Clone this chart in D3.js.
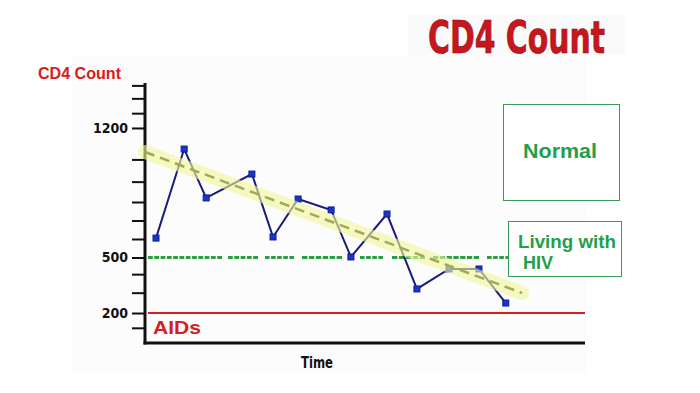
<!DOCTYPE html>
<html>
  <head>
    <meta charset="utf-8" />
    <title>CD4 Count</title>
    <style>
      body { margin: 0; background: #fff; }
      svg { display: block; }
    </style>
    <script src="https://d3js.org/d3.v7.min.js"></script>
  </head>
  <body>
    <div id="chart"></div>
    <script>
      // values (time in arbitrary units)
      const times = [2.5, 8.9, 13.9, 24.3, 29.1, 34.8, 42.3, 46.8, 55.0, 61.8, 69.1, 75.9, 82.0];
      const cd4 = [605, 1086, 822, 951, 611, 816, 757, 503, 735, 330, 438, 438, 254];
      const trendTimes = [0, 85.7];
      const trendValues = [1070, 308];
      const labelTicks = [1200, 500, 200];
      const minorTicks = [1430, 1360, 1280, 1030, 910, 800, 700, 600, 410, 310, 120];
      const hivLevel = 500;
      const aidsLevel = 200;

      const width = 700, height = 393;
      const condensed = "'Liberation Sans Narrow', 'DejaVu Sans Condensed', Arial, sans-serif";
      const bold = "'Liberation Sans', Arial, sans-serif";

      const svg = d3.select("#chart").append("svg")
        .attr("width", width).attr("height", height);

      const x = d3.scaleLinear().domain([0, 100]).range([145, 585]);
      const y = d3.scaleLinear().domain([38, 1443]).range([343, 83]);

      // faint paper patches
      svg.append("rect").attr("x", 72).attr("y", 55).attr("width", 515).attr("height", 317).attr("fill", "#fcfcfc");
      svg.append("rect").attr("x", 408).attr("y", 15).attr("width", 217).attr("height", 40).attr("fill", "#fafafa");

      // title
      svg.append("text")
        .attr("x", 428).attr("y", 53)
        .attr("textLength", 177).attr("lengthAdjust", "spacingAndGlyphs")
        .style("font-family", condensed).style("font-weight", "bold").style("font-size", "45px")
        .attr("fill", "#c8161d").attr("stroke", "#8a0d10").attr("stroke-width", 0.6)
        .text("CD4 Count");

      svg.append("text")
        .attr("x", 38).attr("y", 79)
        .attr("textLength", 83).attr("lengthAdjust", "spacingAndGlyphs")
        .style("font-family", bold).style("font-weight", "bold").style("font-size", "17px")
        .attr("fill", "#d42020").text("CD4 Count");

      // axes
      const gMinor = svg.append("g").attr("transform", "translate(145,0)")
        .call(d3.axisLeft(y).tickValues(minorTicks).tickSize(13).tickFormat(""));
      const gLab = svg.append("g").attr("transform", "translate(145,0)")
        .call(d3.axisLeft(y).tickValues(labelTicks).tickSize(13).tickPadding(4).tickFormat(d3.format("d")));
      [gMinor, gLab].forEach(g => {
        g.select(".domain").remove();
        g.selectAll(".tick line").attr("stroke", "#111").attr("stroke-width", 2);
      });
      gLab.selectAll(".tick text")
        .attr("fill", "#111")
        .style("font-family", condensed).style("font-weight", "bold").style("font-size", "14px");

      svg.append("line")
        .attr("x1", x(0)).attr("x2", x(0)).attr("y1", y(1443)).attr("y2", y(38) + 1.5)
        .attr("stroke", "#111").attr("stroke-width", 3);
      svg.append("line")
        .attr("x1", x(0) - 1.5).attr("x2", x(100)).attr("y1", y(38)).attr("y2", y(38))
        .attr("stroke", "#111").attr("stroke-width", 3);

      svg.append("text")
        .attr("x", 317).attr("y", 368).attr("text-anchor", "middle")
        .attr("textLength", 32).attr("lengthAdjust", "spacingAndGlyphs")
        .style("font-family", condensed).style("font-weight", "bold").style("font-size", "15px")
        .attr("fill", "#111").text("Time");

      // reference levels: green line is drawn as groups of short dashes
      const groups = [[148, 222], [228, 258], [265, 294], [302, 342], [360, 383], [392, 425], [433, 479], [487, 510]];
      const dash = [];
      groups.forEach((g, i) => {
        const n = Math.max(1, Math.round((g[1] - g[0] + 1.5) / 6.5));
        const d = (g[1] - g[0] - (n - 1) * 1.5) / n;
        for (let k = 0; k < n; k++) {
          dash.push(d);
          if (k < n - 1) dash.push(1.5);
        }
        dash.push(i < groups.length - 1 ? groups[i + 1][0] - g[1] : 1000);
      });
      svg.append("line")
        .attr("x1", groups[0][0]).attr("x2", groups[groups.length - 1][1])
        .attr("y1", y(hivLevel)).attr("y2", y(hivLevel))
        .attr("stroke", "#2e9e45").attr("stroke-width", 3)
        .attr("stroke-dasharray", dash.join(","));

      svg.append("line")
        .attr("x1", x(0.7)).attr("x2", x(100)).attr("y1", y(aidsLevel)).attr("y2", y(aidsLevel))
        .attr("stroke", "#d42020").attr("stroke-width", 2);

      svg.append("text")
        .attr("x", 153).attr("y", 334)
        .attr("textLength", 48).attr("lengthAdjust", "spacingAndGlyphs")
        .style("font-family", bold).style("font-weight", "bold").style("font-size", "18px")
        .attr("fill", "#d42020").text("AIDs");

      // data line
      const pts = times.map((t, i) => [t, cd4[i]]);
      svg.append("path")
        .datum(pts)
        .attr("d", d3.line().x(d => x(d[0])).y(d => y(d[1])))
        .attr("fill", "none").attr("stroke", "#1c1c78").attr("stroke-width", 2);
      svg.selectAll("rect.pt").data(pts).join("rect")
        .attr("class", "pt")
        .attr("x", d => x(d[0]) - 3).attr("y", d => y(d[1]) - 3)
        .attr("width", 6).attr("height", 6)
        .attr("fill", "#1a34d0").attr("stroke", "#0e1f8a").attr("stroke-width", 1);

      // trend band + dashed trend
      const trend = trendTimes.map((t, i) => [t, trendValues[i]]);
      const tl = d3.line().x(d => x(d[0])).y(d => y(d[1]));
      svg.append("path").datum(trend).attr("d", tl)
        .attr("stroke", "#f0f59a").attr("stroke-width", 14).attr("opacity", 0.62)
        .attr("fill", "none").attr("stroke-linecap", "round");
      svg.append("path").datum(trend).attr("d", tl)
        .attr("stroke", "#a4a85a").attr("stroke-width", 2.5)
        .attr("stroke-dasharray", "10,6").attr("fill", "none");

      // zone boxes
      const zoneFont = (t, size) => t.style("font-family", bold).style("font-weight", "bold")
        .style("font-size", size + "px").attr("fill", "#22a04a").attr("lengthAdjust", "spacingAndGlyphs");
      svg.append("rect").attr("x", 503.5).attr("y", 104.5).attr("width", 116).attr("height", 96)
        .attr("fill", "#fff").attr("stroke", "#3a9a5a").attr("stroke-width", 1);
      svg.append("text").attr("x", 523).attr("y", 158).attr("textLength", 74)
        .call(zoneFont, 21).text("Normal");

      svg.append("rect").attr("x", 508.5).attr("y", 221.5).attr("width", 113).attr("height", 55)
        .attr("fill", "#fff").attr("stroke", "#3a9a5a").attr("stroke-width", 1);
      svg.append("text").attr("x", 518).attr("y", 248).attr("textLength", 98)
        .call(zoneFont, 19).text("Living with");
      svg.append("text").attr("x", 523).attr("y", 269).attr("textLength", 30)
        .call(zoneFont, 19).text("HIV");
    </script>
  </body>
</html>
